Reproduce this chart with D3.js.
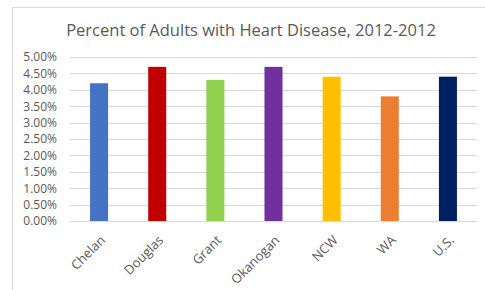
<!DOCTYPE html>
<html>
<head>
<meta charset="utf-8">
<script src="https://cdn.jsdelivr.net/npm/d3@7"></script>
<style>
  body { margin: 0; background: #fff; }
  svg text { font-family: "Open Sans", "Liberation Sans", sans-serif; fill: #595959; }
</style>
</head>
<body>
<div id="chart"></div>
<script>
// data
const regions = ["Chelan", "Douglas", "Grant", "Okanogan", "NCW", "WA", "U.S."]
const percents = [4.2, 4.7, 4.3, 4.7, 4.4, 3.8, 4.4]
const barColors = ["#4472C4", "#C00000", "#92D050", "#7030A0", "#FFC000", "#ED7D31", "#002060"]
const yTicks = [0, 0.5, 1, 1.5, 2, 2.5, 3, 3.5, 4, 4.5, 5]

const W = 485, H = 290
const margin = { top: 57, right: 8, bottom: 69, left: 70 }
const width = W - margin.left - margin.right
const height = H - margin.top - margin.bottom

const svg = d3.select("#chart").append("svg")
    .attr("width", W)
    .attr("height", H)

// chart frame (left + top edges visible)
svg.append("path")
    .attr("d", "M12.5,290 L12.5,7.5 L485,7.5")
    .attr("fill", "none")
    .attr("stroke", "#d9d9d9")

svg.append("text")
    .attr("x", 251)
    .attr("y", 36)
    .attr("text-anchor", "middle")
    .style("font-size", "16.5px")
    .text("Percent of Adults with Heart Disease, 2012-2012")

const g = svg.append("g")
    .attr("transform", "translate(" + margin.left + "," + margin.top + ")")

const x = d3.scaleBand().domain(regions).range([0, width]).paddingInner(0.69).paddingOuter(0.345)
const y = d3.scaleLinear().domain([0, 5]).range([height, 0])

// gridlines
g.selectAll(".grid")
    .data(yTicks)
    .enter().append("line")
    .attr("class", "grid")
    .attr("x1", 0)
    .attr("x2", width)
    .attr("y1", d => Math.round(y(d)) + 0.5)
    .attr("y2", d => Math.round(y(d)) + 0.5)
    .attr("stroke", "#d9d9d9")
    .attr("stroke-width", 1)

// y axis labels
const yAxis = d3.axisLeft(y).tickValues(yTicks)
    .tickFormat(d => d.toFixed(2) + "%")
    .tickSize(0).tickPadding(13)
const ya = g.append("g").call(yAxis)
ya.select(".domain").remove()
ya.selectAll("text").style("font-size", "12px").attr("fill", "#595959")

// bars
g.selectAll(".bar")
    .data(percents)
    .enter().append("rect")
    .attr("class", "bar")
    .attr("x", (d, i) => x(regions[i]))
    .attr("y", d => y(d))
    .attr("width", x.bandwidth())
    .attr("height", d => height - y(d))
    .attr("fill", (d, i) => barColors[i])

// x labels, rotated
const xAxis = d3.axisBottom(x).tickSize(0).tickPadding(0)
const xa = g.append("g").attr("transform", "translate(0," + height + ")").call(xAxis)
xa.select(".domain").remove()
xa.selectAll("text")
    .style("font-size", "13px")
    .attr("fill", "#595959")
    .attr("text-anchor", "end")
    .attr("dy", null)
    .attr("y", 0)
    .attr("transform", "translate(7,20) rotate(-45)")
</script>
</body>
</html>
